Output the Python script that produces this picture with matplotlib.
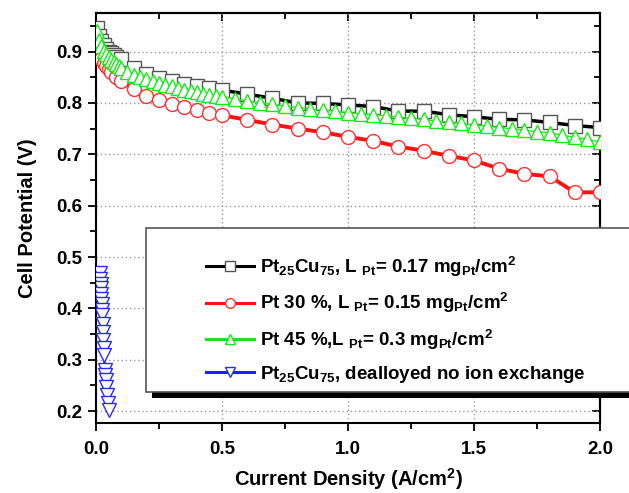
import matplotlib
matplotlib.use("Agg")
import matplotlib.pyplot as plt
from matplotlib.lines import Line2D
from matplotlib.patches import Rectangle
from matplotlib.ticker import MultipleLocator

plt.rcParams["font.family"] = "Liberation Sans"
plt.rcParams["font.weight"] = "bold"
plt.rcParams["mathtext.fontset"] = "custom"
plt.rcParams["mathtext.rm"] = "Liberation Sans:bold"
plt.rcParams["mathtext.bf"] = "Liberation Sans:bold"
plt.rcParams["mathtext.default"] = "bf"

# Pt25Cu75, L_Pt = 0.17
ptcu_x = [0.005, 0.01, 0.02, 0.03, 0.04, 0.05, 0.06, 0.07, 0.08, 0.1,
          0.15, 0.2, 0.25, 0.3, 0.35, 0.4, 0.45, 0.5, 0.6, 0.7, 0.8, 0.9,
          1.0, 1.1, 1.2, 1.3, 1.4, 1.5, 1.6, 1.7, 1.8, 1.9, 2.0]
ptcu_y = [0.945, 0.93, 0.92, 0.912, 0.905, 0.9, 0.897, 0.893, 0.89, 0.885,
          0.868, 0.857, 0.849, 0.842, 0.836, 0.832, 0.829, 0.825, 0.817, 0.809, 0.800, 0.799,
          0.796, 0.793, 0.784, 0.784, 0.777, 0.773, 0.768, 0.767, 0.762, 0.756, 0.752]

# Pt 30 %, L_Pt = 0.15
pt30_x = [0.005, 0.01, 0.02, 0.03, 0.04, 0.05, 0.06, 0.08, 0.1,
          0.15, 0.2, 0.25, 0.3, 0.35, 0.4, 0.45, 0.5, 0.6, 0.7, 0.8, 0.9,
          1.0, 1.1, 1.2, 1.3, 1.4, 1.5, 1.6, 1.7, 1.8, 1.9, 2.0]
pt30_y = [0.900, 0.893, 0.885, 0.878, 0.872, 0.866, 0.860, 0.850, 0.843,
          0.827, 0.814, 0.805, 0.798, 0.792, 0.786, 0.780, 0.776, 0.767, 0.758, 0.750, 0.743,
          0.734, 0.726, 0.715, 0.707, 0.697, 0.688, 0.672, 0.662, 0.657, 0.626, 0.626]

# Pt 45 %, L_Pt = 0.3
pt45_x = [0.005, 0.01, 0.02, 0.03, 0.04, 0.05, 0.06, 0.07, 0.08, 0.09, 0.1,
          0.125, 0.15, 0.175, 0.2, 0.225, 0.25, 0.275, 0.3, 0.325, 0.35, 0.375,
          0.4, 0.425, 0.45, 0.475, 0.5, 0.55, 0.6, 0.65, 0.7, 0.75, 0.8, 0.85,
          0.9, 0.95, 1.0, 1.05, 1.1, 1.15, 1.2, 1.25, 1.3, 1.35, 1.4, 1.45, 1.5,
          1.55, 1.6, 1.65, 1.7, 1.75, 1.8, 1.85, 1.9, 1.95, 2.0]
pt45_y = [0.940, 0.922, 0.910, 0.902, 0.895, 0.889, 0.884, 0.879, 0.875, 0.871, 0.868,
          0.861, 0.855, 0.850, 0.846, 0.842, 0.838, 0.835, 0.832, 0.829, 0.826, 0.823,
          0.821, 0.818, 0.816, 0.814, 0.812, 0.808, 0.804, 0.800, 0.797, 0.794, 0.791, 0.788,
          0.786, 0.784, 0.781, 0.779, 0.777, 0.775, 0.772, 0.770, 0.768, 0.765, 0.762, 0.760, 0.757,
          0.755, 0.752, 0.750, 0.747, 0.744, 0.742, 0.737, 0.733, 0.729, 0.724]

# Pt25Cu75 dealloyed, no ion exchange
dealloy_x = [0.016, 0.017, 0.018, 0.019, 0.020, 0.021, 0.022, 0.023, 0.025, 0.026, 0.028,
             0.029, 0.030, 0.032, 0.035, 0.036, 0.038, 0.040, 0.043, 0.046, 0.050]
dealloy_y = [0.469, 0.458, 0.448, 0.439, 0.429, 0.419, 0.409, 0.396, 0.387, 0.370, 0.354,
             0.338, 0.322, 0.309, 0.280, 0.270, 0.260, 0.247, 0.231, 0.215, 0.202]

labels = [
    "Pt$_{25}$Cu$_{75}$, L $_{Pt}$= 0.17 mg$_{Pt}$/cm$^{2}$",
    "Pt 30 %, L $_{Pt}$= 0.15 mg$_{Pt}$/cm$^{2}$",
    "Pt 45 %,L $_{Pt}$= 0.3 mg$_{Pt}$/cm$^{2}$",
    "Pt$_{25}$Cu$_{75}$, dealloyed no ion exchange",
]

fig = plt.figure(figsize=(6.29, 4.93), dpi=100)
ax = fig.add_axes([0.1526, 0.142, 0.8014, 0.8316])

ax.plot(ptcu_x, ptcu_y, color="black", lw=2.5, marker="s", ms=10,
        mfc="white", mec="#555555", mew=1.0, zorder=3)
ax.plot(pt30_x, pt30_y, color="#ff1010", lw=2.8, marker="o", ms=10,
        mfc="white", mec="#ff3030", mew=1.0, zorder=3)
ax.plot(pt45_x, pt45_y, color="#22ee22", lw=1.0, marker="^", ms=10,
        mfc="white", mec="#11ee11", mew=1.0, zorder=3)
ax.plot(dealloy_x, dealloy_y, color="#2020ff", lw=1.5, marker="v", ms=10,
        mfc="white", mec="#2a2aff", mew=1.0, zorder=3)

ax.set_xlim(0, 2.0)
ax.set_ylim(0.177, 0.975)
ax.xaxis.set_major_locator(MultipleLocator(0.5))
ax.xaxis.set_minor_locator(MultipleLocator(0.25))
ax.yaxis.set_major_locator(MultipleLocator(0.1))
ax.yaxis.set_minor_locator(MultipleLocator(0.05))
ax.grid(True, which="major", color="#999999", ls=(0, (1, 2)), lw=1.0)
ax.tick_params(which="major", direction="out", length=6, width=1.3, labelsize=13.5, pad=4)
ax.tick_params(axis="x", which="major", pad=7)
ax.tick_params(which="minor", direction="out", length=4, width=1.3)
for s in ax.spines.values():
    s.set_linewidth(1.5)

# mirrored inward ticks on top and right
top = ax.secondary_xaxis("top")
top.xaxis.set_major_locator(MultipleLocator(0.5))
top.xaxis.set_minor_locator(MultipleLocator(0.25))
top.tick_params(which="major", direction="in", length=6, width=1.3, labeltop=False)
top.tick_params(which="minor", direction="in", length=4, width=1.3)
right = ax.secondary_yaxis("right")
right.yaxis.set_major_locator(MultipleLocator(0.1))
right.yaxis.set_minor_locator(MultipleLocator(0.05))
right.tick_params(which="major", direction="in", length=6, width=1.3, labelright=False)
right.tick_params(which="minor", direction="in", length=4, width=1.3)
for sec in (top, right):
    for s in sec.spines.values():
        s.set_linewidth(1.5)

ax.set_xlabel("Current Density (A/cm$^{2}$)", fontsize=14.5, fontweight="bold", labelpad=6)
ax.set_ylabel("Cell Potential (V)", fontsize=14.5, fontweight="bold", labelpad=14)

# legend box with shadow, running past the right edge
ax.add_patch(Rectangle((0.2417, 0.193), 0.9, 0.3325, transform=fig.transFigure,
                       facecolor="black", edgecolor="none", clip_on=False, zorder=8))
ax.add_patch(Rectangle((0.232, 0.205), 0.9, 0.3325, transform=fig.transFigure,
                       facecolor="white", edgecolor="#555555", lw=1.2, clip_on=False, zorder=9))

handles = [
    Line2D([], [], color="black", lw=2.2, marker="s", ms=7, mfc="white", mec="#555555", mew=1.0),
    Line2D([], [], color="#ff1010", lw=2.2, marker="o", ms=7, mfc="white", mec="#ff3030", mew=1.0),
    Line2D([], [], color="#22dd22", lw=2.2, marker="^", ms=7, mfc="white", mec="#11ee11", mew=1.0),
    Line2D([], [], color="#2020ff", lw=2.2, marker="v", ms=7, mfc="white", mec="#2a2aff", mew=1.0),
]
leg = ax.legend(handles, labels, loc="upper left", bbox_to_anchor=(0.327, 0.483),
                bbox_transform=fig.transFigure, frameon=False, fontsize=13.5,
                handlelength=2.6, handletextpad=0.3, labelspacing=0.65, borderpad=0,
                borderaxespad=0)
leg.set_zorder(10)

fig.savefig("out.png", dpi=100)
